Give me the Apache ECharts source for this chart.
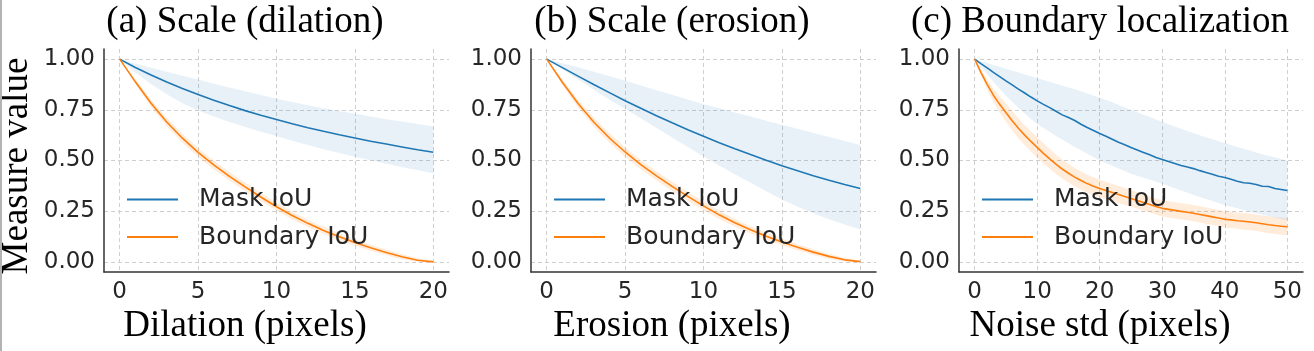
<!DOCTYPE html>
<html><head><meta charset="utf-8">
<script src="https://cdn.jsdelivr.net/npm/echarts@6/dist/echarts.min.js"></script>
<style>html,body{margin:0;padding:0;background:#fff}#c{width:1314px;height:351px}</style>
</head><body><div id="c"></div><script>
// ---------- data ----------
const seriesNames = ['Mask IoU', 'Boundary IoU'];
const panelTitles = ['(a) Scale (dilation)', '(b) Scale (erosion)', '(c) Boundary localization'];
const xAxisNames = ['Dilation (pixels)', 'Erosion (pixels)', 'Noise std (pixels)'];
const yAxisName = 'Measure value';
const yTicks = [0, 0.25, 0.5, 0.75, 1.0];
const xTicksScale = [0, 5, 10, 15, 20];
const xTicksNoise = [0, 10, 20, 30, 40, 50];

const xDilation = [0,1,2,3,4,5,6,7,8,9,10,11,12,13,14,15,16,17,18,19,20];
const maskDilation = [1.000,0.959,0.922,0.887,0.855,0.825,0.797,0.771,0.746,0.723,0.702,0.681,0.662,0.644,0.627,0.611,0.595,0.581,0.567,0.553,0.541];
const maskDilationUpper = [1.000,0.978,0.958,0.938,0.918,0.899,0.879,0.860,0.842,0.823,0.805,0.789,0.773,0.758,0.744,0.730,0.717,0.704,0.692,0.680,0.668];
const maskDilationLower = [1.000,0.934,0.877,0.827,0.783,0.747,0.717,0.690,0.665,0.642,0.621,0.598,0.577,0.556,0.537,0.519,0.501,0.484,0.468,0.452,0.437];
const boundaryDilation = [1.000,0.888,0.782,0.690,0.610,0.540,0.478,0.422,0.370,0.320,0.272,0.229,0.190,0.155,0.124,0.096,0.070,0.046,0.025,0.008,0.000];
const boundaryDilationUpper = [1.000,0.900,0.800,0.711,0.632,0.562,0.500,0.443,0.391,0.340,0.291,0.248,0.208,0.173,0.141,0.112,0.085,0.060,0.037,0.018,0.006];
const boundaryDilationLower = [1.000,0.876,0.764,0.670,0.588,0.518,0.456,0.401,0.349,0.300,0.253,0.210,0.172,0.137,0.107,0.080,0.055,0.033,0.013,0.000,0.000];

const xErosion = [0,1,2,3,4,5,6,7,8,9,10,11,12,13,14,15,16,17,18,19,20];
const maskErosion = [1.000,0.958,0.916,0.875,0.835,0.795,0.758,0.721,0.686,0.652,0.620,0.588,0.558,0.529,0.501,0.474,0.449,0.425,0.403,0.382,0.362];
const maskErosionUpper = [1.000,0.980,0.960,0.938,0.916,0.893,0.870,0.847,0.824,0.801,0.778,0.758,0.737,0.717,0.696,0.676,0.656,0.636,0.616,0.596,0.576];
const maskErosionLower = [1.000,0.950,0.900,0.850,0.800,0.755,0.708,0.660,0.613,0.566,0.520,0.475,0.432,0.390,0.348,0.308,0.272,0.240,0.210,0.184,0.160];
const boundaryErosion = [1.000,0.886,0.781,0.690,0.611,0.542,0.480,0.424,0.372,0.323,0.276,0.232,0.193,0.158,0.126,0.098,0.072,0.048,0.027,0.010,0.001];
const boundaryErosionUpper = [1.000,0.899,0.800,0.712,0.634,0.565,0.503,0.447,0.395,0.345,0.298,0.253,0.213,0.176,0.143,0.114,0.087,0.062,0.039,0.020,0.007];
const boundaryErosionLower = [1.000,0.873,0.762,0.668,0.588,0.519,0.457,0.401,0.349,0.301,0.254,0.211,0.173,0.140,0.109,0.082,0.057,0.034,0.015,0.002,0.000];

const xNoise = [0,1,2,3,4,5,6,7,8,9,10,11,12,13,14,15,16,17,18,19,20,21,22,23,24,25,26,27,28,29,30,31,32,33,34,35,36,37,38,39,40,41,42,43,44,45,46,47,48,49,50];
const maskNoise = [1.000,0.978,0.957,0.935,0.914,0.893,0.873,0.852,0.833,0.813,0.794,0.777,0.761,0.743,0.725,0.712,0.697,0.679,0.663,0.648,0.633,0.620,0.605,0.590,0.578,0.564,0.552,0.540,0.528,0.515,0.505,0.495,0.485,0.475,0.468,0.460,0.450,0.441,0.432,0.422,0.416,0.407,0.398,0.390,0.388,0.382,0.373,0.372,0.362,0.357,0.352];
const maskNoiseUpper = [1.000,0.990,0.981,0.971,0.962,0.952,0.943,0.934,0.924,0.915,0.906,0.897,0.888,0.879,0.869,0.860,0.851,0.841,0.830,0.820,0.810,0.798,0.787,0.775,0.762,0.750,0.738,0.726,0.714,0.702,0.690,0.679,0.668,0.657,0.646,0.635,0.625,0.615,0.605,0.595,0.585,0.576,0.567,0.558,0.549,0.540,0.531,0.523,0.515,0.507,0.500];
const maskNoiseLower = [1.000,0.962,0.925,0.889,0.854,0.820,0.790,0.760,0.732,0.705,0.680,0.660,0.640,0.621,0.603,0.585,0.567,0.550,0.533,0.516,0.500,0.487,0.474,0.461,0.448,0.435,0.425,0.415,0.405,0.395,0.385,0.374,0.363,0.352,0.341,0.330,0.320,0.310,0.300,0.290,0.280,0.272,0.264,0.256,0.248,0.240,0.233,0.226,0.219,0.212,0.205];
const boundaryNoise = [1.000,0.935,0.876,0.822,0.777,0.737,0.696,0.659,0.625,0.594,0.565,0.535,0.508,0.482,0.458,0.437,0.418,0.401,0.386,0.373,0.362,0.352,0.342,0.332,0.322,0.313,0.303,0.293,0.283,0.273,0.264,0.259,0.254,0.249,0.245,0.240,0.234,0.228,0.222,0.216,0.210,0.207,0.203,0.200,0.197,0.193,0.188,0.183,0.179,0.176,0.173];
const boundaryNoiseUpper = [1.000,0.950,0.901,0.855,0.817,0.782,0.744,0.709,0.675,0.644,0.615,0.585,0.557,0.530,0.505,0.483,0.463,0.446,0.430,0.417,0.405,0.395,0.384,0.374,0.364,0.354,0.344,0.334,0.323,0.313,0.304,0.299,0.294,0.289,0.285,0.280,0.274,0.268,0.262,0.256,0.250,0.247,0.243,0.241,0.238,0.234,0.229,0.225,0.221,0.218,0.215];
const boundaryNoiseLower = [1.000,0.920,0.851,0.789,0.737,0.692,0.648,0.609,0.575,0.544,0.515,0.485,0.459,0.434,0.411,0.391,0.373,0.356,0.342,0.329,0.319,0.309,0.300,0.290,0.280,0.272,0.262,0.252,0.243,0.233,0.224,0.219,0.214,0.209,0.205,0.200,0.194,0.188,0.182,0.176,0.170,0.167,0.163,0.159,0.156,0.152,0.147,0.141,0.137,0.134,0.131];

// ---------- layout / style ----------
const BLUE = '#1f77b4', ORANGE = '#ff7f0e', TEXT = '#262626';
const SERIF = '"Liberation Serif", "Times New Roman", serif';
const SANS = '"DejaVu Sans", sans-serif';

const panels = [
  {x: xDilation, m: maskDilation, mu: maskDilationUpper, ml: maskDilationLower,
   b: boundaryDilation, bu: boundaryDilationUpper, bl: boundaryDilationLower,
   ticks: xTicksScale, min: -1, max: 21, left: 104, width: 345, legendLeft: 127, cx: 245},
  {x: xErosion, m: maskErosion, mu: maskErosionUpper, ml: maskErosionLower,
   b: boundaryErosion, bu: boundaryErosionUpper, bl: boundaryErosionLower,
   ticks: xTicksScale, min: -1, max: 21, left: 531, width: 345, legendLeft: 554, cx: 672},
  {x: xNoise, m: maskNoise, mu: maskNoiseUpper, ml: maskNoiseLower,
   b: boundaryNoise, bu: boundaryNoiseUpper, bl: boundaryNoiseLower,
   ticks: xTicksNoise, min: -2.5, max: 52.5, left: 959, width: 344, legendLeft: 982, cx: 1100}
];
const GRID_TOP = 49, GRID_H = 223;

const grids = [], xAxes = [], yAxes = [], series = [], legends = [], graphics = [];
const splitLine = {show: true, lineStyle: {color: '#cfcfcf', width: 1, type: [4, 3]}};
const axisLine = {show: true, onZero: false, lineStyle: {color: '#333333', width: 1.5}};

function pairs(xs, ys) { return xs.map((x, i) => [x, ys[i]]); }
function band(id, gi, xs, lo, up, fill) {
  return {
    type: 'custom', name: id, xAxisIndex: gi, yAxisIndex: gi, silent: true, z: 1,
    data: xs.map((x, i) => [x, lo[i], up[i]]),
    encode: {x: 0, y: [1, 2]},
    renderItem: function (params, api) {
      if (params.dataIndex !== 0) return null;
      const pts = [];
      for (let i = 0; i < xs.length; i++) pts.push(api.coord([xs[i], up[i]]));
      for (let i = xs.length - 1; i >= 0; i--) pts.push(api.coord([xs[i], lo[i]]));
      return {type: 'polygon', shape: {points: pts}, style: {fill: fill, stroke: null}};
    }
  };
}

panels.forEach((p, gi) => {
  grids.push({left: p.left, top: GRID_TOP, width: p.width, height: GRID_H});
  xAxes.push({type: 'value', gridIndex: gi, min: p.min, max: p.max,
    axisLine: axisLine, axisTick: {show: false, customValues: p.ticks},
    axisLabel: {customValues: p.ticks, fontFamily: SANS, fontSize: 23, color: TEXT, margin: 9},
    splitLine: splitLine});
  yAxes.push({type: 'value', gridIndex: gi, min: -0.05, max: 1.05,
    axisLine: axisLine, axisTick: {show: false, customValues: yTicks},
    axisLabel: {customValues: yTicks, fontFamily: SANS, fontSize: 23, color: TEXT, margin: 9,
      formatter: v => v.toFixed(2)},
    splitLine: splitLine});
  series.push(band('maskBand' + gi, gi, p.x, p.ml, p.mu, 'rgba(31,119,180,0.10)'));
  series.push(band('boundaryBand' + gi, gi, p.x, p.bl, p.bu, 'rgba(255,127,14,0.15)'));
  series.push({type: 'line', name: seriesNames[0], xAxisIndex: gi, yAxisIndex: gi, data: pairs(p.x, p.m),
    symbol: 'none', color: BLUE, lineStyle: {color: BLUE, width: 1.6}, z: 3});
  series.push({type: 'line', name: seriesNames[1], xAxisIndex: gi, yAxisIndex: gi, data: pairs(p.x, p.b),
    symbol: 'none', color: ORANGE, lineStyle: {color: ORANGE, width: 1.6}, z: 3});
  legends.push({orient: 'vertical', left: p.legendLeft, top: 187, padding: 0, itemGap: 12.5,
    itemWidth: 51, itemHeight: 2, icon: 'rect', selectedMode: false, data: seriesNames,
    textStyle: {fontFamily: SANS, fontSize: 25, color: TEXT, lineHeight: 25, padding: [0, 0, 0, 16]}});
  graphics.push({type: 'text', x: p.cx, y: 22, silent: true,
    style: {text: panelTitles[gi], font: '37px ' + SERIF, fill: '#000',
      align: 'center', verticalAlign: 'middle', textAlign: 'center', textVerticalAlign: 'middle'}});
  graphics.push({type: 'text', x: p.cx, y: 326, silent: true,
    style: {text: xAxisNames[gi], font: '37px ' + SERIF, fill: '#000',
      align: 'center', verticalAlign: 'middle', textAlign: 'center', textVerticalAlign: 'middle'}});
});
graphics.push({type: 'text', x: 17, y: 166, rotation: Math.PI / 2, silent: true,
  style: {text: yAxisName, font: '37px ' + SERIF, fill: '#000',
    align: 'center', verticalAlign: 'middle', textAlign: 'center', textVerticalAlign: 'middle'}});
graphics.push({type: 'rect', shape: {x: 0, y: 0, width: 2, height: 351}, style: {fill: '#b3b3b3'}, silent: true});

const chart = echarts.init(document.getElementById('c'), null, {renderer: 'canvas'});
chart.setOption({
  animation: false,
  backgroundColor: '#ffffff',
  grid: grids, xAxis: xAxes, yAxis: yAxes, series: series, legend: legends, graphic: graphics
});
</script></body></html>
